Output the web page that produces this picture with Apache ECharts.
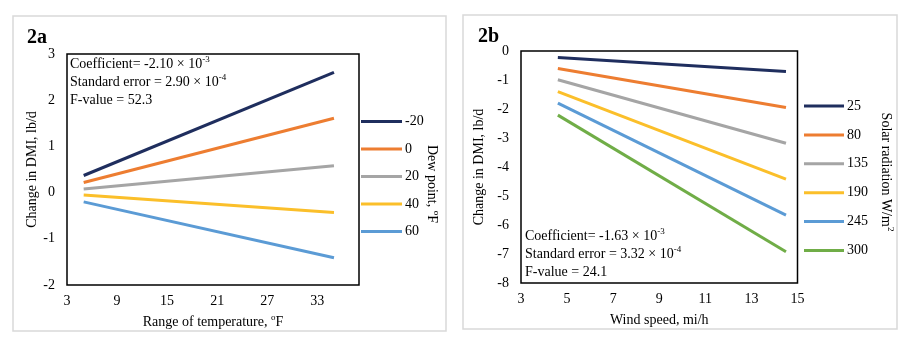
<!DOCTYPE html>
<html>
<head>
<meta charset="utf-8">
<script src="https://cdn.jsdelivr.net/npm/echarts@6/dist/echarts.min.js"></script>
<style>
html,body{margin:0;padding:0;background:#fff;}
#c{width:912px;height:348px;}
</style>
</head>
<body>
<div id="c"></div>
<script>
// ---- Panel 2a data ----
const dewPointNames = ['-20', '0', '20', '40', '60'];
const tempRangeX = [5, 35];
const dewM20 = [0.37, 2.60];
const dew0 = [0.22, 1.61];
const dew20 = [0.08, 0.58];
const dew40 = [-0.05, -0.43];
const dew60 = [-0.20, -1.41];
const tempTickLabels = ['3', '9', '15', '21', '27', '33'];
const dmiTicksA = [-2, -1, 0, 1, 2, 3];

// ---- Panel 2b data ----
const solarNames = ['25', '80', '135', '190', '245', '300'];
const windX = [4.6, 14.5];
const sol25 = [-0.22, -0.71];
const sol80 = [-0.60, -1.95];
const sol135 = [-0.99, -3.18];
const sol190 = [-1.40, -4.42];
const sol245 = [-1.80, -5.66];
const sol300 = [-2.21, -6.92];
const windTickLabels = ['3', '5', '7', '9', '11', '13', '15'];
const dmiTicksB = [-8, -7, -6, -5, -4, -3, -2, -1, 0];

const colorsA = ['#1f2e5e', '#ed7d31', '#a5a5a5', '#fbbf2a', '#5b9bd5'];
const colorsB = ['#1f2e5e', '#ed7d31', '#a5a5a5', '#fbbf2a', '#5b9bd5', '#70ad47'];

const FONT = '"Liberation Serif", "Times New Roman", serif';

const seriesA = [dewM20, dew0, dew20, dew40, dew60];
const seriesB = [sol25, sol80, sol135, sol190, sol245, sol300];

function pairs(xs, ys) { return xs.map((x, i) => [x, ys[i]]); }

const series = [];
seriesA.forEach((ys, i) => series.push({
  name: dewPointNames[i], type: 'line', xAxisIndex: 0, yAxisIndex: 0,
  data: pairs(tempRangeX, ys), symbol: 'none', silent: true,
  lineStyle: { width: 3, color: colorsA[i] }, itemStyle: { color: colorsA[i] }
}));
seriesB.forEach((ys, i) => series.push({
  name: solarNames[i], type: 'line', xAxisIndex: 1, yAxisIndex: 1,
  data: pairs(windX, ys), symbol: 'none', silent: true,
  lineStyle: { width: 3, color: colorsB[i] }, itemStyle: { color: colorsB[i] }
}));

const tickStyle = { fontFamily: FONT, fontSize: 14, color: '#000' };
const supRich = {
  n: { fontFamily: FONT, fontSize: 14, color: '#000', lineHeight: 18 },
  s: { fontFamily: FONT, fontSize: 9, color: '#000', lineHeight: 18, verticalAlign: 'top', padding: [0, 0, 0, 0] }
};

function xAxisCfg(grid, min, max, labels, name, nameRich, gap) {
  return {
    type: 'value', gridIndex: grid, min: min, max: max, interval: 1,
    axisLine: { show: false }, axisTick: { show: false }, splitLine: { show: false },
    axisLabel: Object.assign({
      margin: 9, showMaxLabel: labels.indexOf(String(max)) >= 0,
      formatter: v => labels.indexOf(String(v)) >= 0 ? String(v) : ''
    }, tickStyle),
    name: name, nameLocation: 'middle', nameGap: gap,
    nameTextStyle: { fontFamily: FONT, fontSize: 14, color: '#000', rich: nameRich }
  };
}
function yAxisCfg(grid, min, max, gap) {
  return {
    type: 'value', gridIndex: grid, min: min, max: max, interval: 1,
    axisLine: { show: false }, axisTick: { show: false }, splitLine: { show: false },
    axisLabel: Object.assign({ margin: 12 }, tickStyle),
    name: 'Change in DMI, lb/d', nameLocation: 'middle', nameGap: gap,
    nameTextStyle: { fontFamily: FONT, fontSize: 14, color: '#000' }
  };
}

const option = {
  animation: false,
  backgroundColor: '#fff',
  grid: [
    { left: 67, top: 54, width: 292, height: 231, show: true, borderColor: '#000', borderWidth: 1.5, backgroundColor: 'transparent' },
    { left: 521, top: 51, width: 276.5, height: 232, show: true, borderColor: '#000', borderWidth: 1.5, backgroundColor: 'transparent' }
  ],
  xAxis: [
    xAxisCfg(0, 3, 38, tempTickLabels, '{n|Range of temperature, }{s|o}{n|F}', supRich, 27),
    xAxisCfg(1, 3, 15, windTickLabels, 'Wind speed, mi/h', null, 30)
  ],
  yAxis: [
    yAxisCfg(0, dmiTicksA[0], dmiTicksA[dmiTicksA.length - 1], 27),
    yAxisCfg(1, dmiTicksB[0], dmiTicksB[dmiTicksB.length - 1], 35)
  ],
  legend: [
    {
      data: dewPointNames, orient: 'vertical', left: 356, top: 109.5,
      icon: 'rect', itemWidth: 41, itemHeight: 3, itemGap: 13.5, selectedMode: false,
      textStyle: { fontFamily: FONT, fontSize: 14, color: '#000', lineHeight: 14, padding: [0, 0, 0, -2] }
    },
    {
      data: solarNames, orient: 'vertical', left: 799, top: 94,
      icon: 'rect', itemWidth: 40, itemHeight: 3, itemGap: 14.9, selectedMode: false,
      textStyle: { fontFamily: FONT, fontSize: 14, color: '#000', lineHeight: 14, padding: [0, 0, 0, -2] }
    }
  ],
  series: series,
  graphic: [
    { type: 'rect', shape: { x: 13, y: 16, width: 433, height: 315 }, style: { fill: 'none', stroke: '#d9d9d9', lineWidth: 1.5 }, z: -1 },
    { type: 'rect', shape: { x: 463, y: 15, width: 434, height: 314 }, style: { fill: 'none', stroke: '#d9d9d9', lineWidth: 1.5 }, z: -1 },
    { type: 'text', x: 27, y: 38, style: { text: '2a', fontFamily: FONT, fontSize: 20, fontWeight: 'bold', fill: '#000', verticalAlign: 'middle' } },
    { type: 'text', x: 478, y: 37, style: { text: '2b', fontFamily: FONT, fontSize: 20, fontWeight: 'bold', fill: '#000', verticalAlign: 'middle' } },
    { type: 'text', x: 70, y: 55, style: {
        text: '{n|Coefficient= -2.10 × 10}{s|-3}\n{n|Standard error = 2.90 × 10}{s|-4}\n{n|F-value = 52.3}',
        rich: supRich, fontFamily: FONT, fontSize: 14, fill: '#000', lineHeight: 18 } },
    { type: 'text', x: 525, y: 227, style: {
        text: '{n|Coefficient= -1.63 × 10}{s|-3}\n{n|Standard error = 3.32 × 10}{s|-4}\n{n|F-value = 24.1}',
        rich: supRich, fontFamily: FONT, fontSize: 14, fill: '#000', lineHeight: 18 } },
    { type: 'text', x: 432, y: 184, rotation: -Math.PI / 2, style: {
        text: '{n|Dew point, }{s|o}{n|F}', rich: supRich, fontFamily: FONT, fontSize: 14, fill: '#000',
        align: 'center', verticalAlign: 'middle' } },
    { type: 'text', x: 886, y: 172, rotation: -Math.PI / 2, style: {
        text: '{n|Solar radiation W/m}{s|2}', rich: supRich, fontFamily: FONT, fontSize: 14, fill: '#000',
        align: 'center', verticalAlign: 'middle' } }
  ]
};

const chart = echarts.init(document.getElementById('c'), null, { renderer: 'canvas' });
chart.setOption(option);
</script>
</body>
</html>
